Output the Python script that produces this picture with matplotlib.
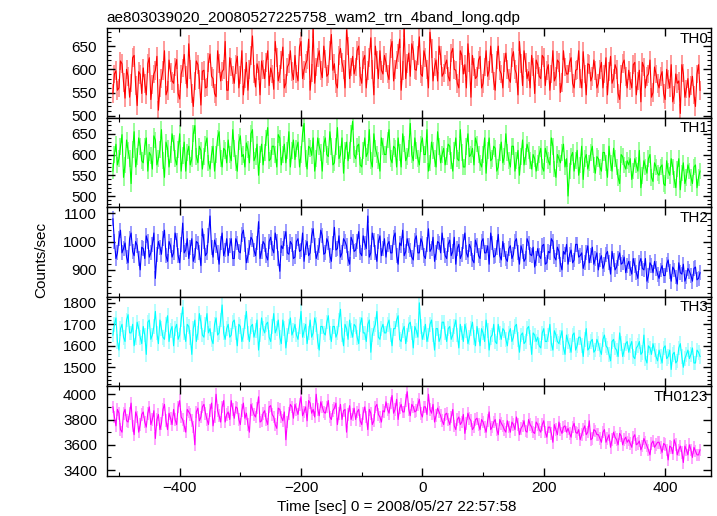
import numpy as np
import matplotlib
matplotlib.use("Agg")
import matplotlib.pyplot as plt
from matplotlib.ticker import MultipleLocator

plt.rcParams['font.family'] = ['Liberation Sans', 'DejaVu Sans']

title = "ae803039020_20080527225758_wam2_trn_4band_long.qdp"
xlabel = "Time [sec] 0 = 2008/05/27 22:57:58"
ylabel = "Counts/sec"

t_start = -510
t_step = 2.5

# values at bins t_start, t_start+5, ...  (a) and the bins in between (b)
th0_a = [548, 597, 560, 612, 538, 585, 571, 630, 522, 589,
         603, 545, 625, 567, 598, 512, 580, 640, 555, 593,
         570, 621, 536, 603, 588, 655, 548, 575, 610, 523,
         598, 562, 633, 580, 541, 612, 595, 660, 555, 605,
         570, 628, 588, 545, 615, 600, 672, 562, 598, 618,
         580, 640, 603, 557, 625, 590, 648, 570, 612, 595,
         630, 575, 660, 598, 620, 555, 688, 605, 640, 582,
         622, 590, 675, 612, 560, 645, 600, 685, 580, 628,
         605, 650, 570, 630, 598, 668, 545, 620, 640, 590,
         615, 578, 660, 600, 635, 555, 690, 612, 585, 640,
         598, 670, 585, 625, 560, 645, 605, 575, 630, 592,
         620, 575, 645, 598, 560, 630, 610, 655, 540, 605,
         585, 628, 570, 640, 598, 612, 555, 650, 590, 615,
         600, 572, 638, 590, 660, 565, 615, 595, 630, 548,
         610, 580, 625, 598, 555, 640, 585, 615, 572, 605,
         590, 625, 560, 600, 580, 638, 545, 610, 585, 598,
         570, 615, 590, 545, 628, 580, 600, 535, 612, 585,
         598, 560, 615, 575, 530, 605, 585, 620, 550, 590,
         560, 595, 535, 578, 610, 545, 570, 505, 592, 558,
         540, 585, 520, 610]
th0_b = [590, 555, 618, 572, 600, 540, 625, 565, 595, 548,
         570, 612, 535, 590, 628, 560, 598, 545, 620, 575,
         605, 548, 590, 632, 560, 600, 520, 618, 578, 596,
         560, 615, 585, 548, 640, 575, 600, 555, 625, 588,
         610, 560, 640, 580, 555, 630, 590, 612, 545, 600,
         615, 565, 590, 660, 575, 620, 560, 605, 640, 578,
         590, 648, 580, 612, 665, 592, 570, 625, 598, 650,
         585, 640, 598, 570, 630, 615, 560, 650, 605, 590,
         640, 585, 620, 560, 625, 600, 650, 580, 598, 630,
         590, 645, 575, 620, 665, 598, 580, 635, 655, 600,
         630, 590, 640, 600, 680, 575, 620, 650, 585, 610,
         585, 635, 600, 570, 640, 590, 560, 615, 630, 580,
         620, 560, 605, 585, 650, 575, 620, 598, 560, 635,
         580, 625, 600, 545, 612, 640, 580, 560, 605, 620,
         585, 630, 565, 610, 590, 575, 620, 550, 640, 590,
         615, 570, 598, 640, 560, 590, 612, 575, 620, 560,
         600, 560, 625, 595, 570, 610, 548, 590, 620, 560,
         575, 610, 545, 598, 615, 560, 590, 540, 605, 570,
         585, 548, 600, 560, 530, 590, 575, 610, 540, 580,
         565, 545, 590, 555]

th1_a = [560, 625, 590, 648, 575, 610, 530, 655, 595, 620,
         580, 640, 605, 565, 635, 590, 660, 545, 615, 600,
         628, 575, 650, 598, 560, 620, 590, 670, 580, 610,
         595, 640, 565, 620, 600, 655, 570, 610, 635, 585,
         615, 560, 645, 600, 628, 580, 660, 595, 550, 625,
         605, 665, 590, 620, 570, 640, 600, 580, 655, 610,
         588, 630, 600, 675, 565, 615, 640, 590, 620, 560,
         640, 595, 620, 580, 665, 600, 555, 630, 610, 680,
         590, 625, 570, 640, 605, 585, 650, 600, 560, 620,
         600, 660, 580, 615, 640, 570, 625, 595, 675, 585,
         610, 575, 640, 600, 560, 630, 590, 655, 580, 615,
         595, 620, 560, 640, 585, 605, 570, 650, 600, 575,
         625, 580, 600, 555, 640, 590, 615, 570, 630, 595,
         605, 570, 620, 585, 550, 635, 595, 610, 565, 590,
         580, 615, 560, 600, 575, 620, 545, 590, 605, 570,
         500, 595, 560, 610, 575, 540, 600, 580, 620, 555,
         590, 560, 605, 545, 580, 615, 570, 530, 595, 565,
         575, 540, 590, 560, 520, 585, 555, 600, 535, 570,
         550, 575, 525, 560, 590, 540, 565, 515, 580, 545,
         560, 530, 575, 545]
th1_b = [600, 575, 620, 545, 635, 590, 612, 570, 640, 585,
         620, 560, 598, 645, 575, 612, 585, 630, 570, 650,
         590, 612, 560, 630, 605, 575, 650, 595, 620, 565,
         625, 580, 600, 560, 640, 590, 615, 580, 600, 660,
         580, 630, 595, 570, 612, 650, 585, 625, 600, 575,
         640, 585, 620, 600, 648, 575, 625, 610, 570, 635,
         615, 570, 650, 590, 620, 598, 560, 640, 605, 625,
         600, 655, 575, 620, 590, 640, 610, 585, 650, 600,
         620, 575, 610, 595, 660, 570, 615, 585, 640, 600,
         635, 590, 620, 570, 605, 650, 585, 615, 600, 640,
         590, 625, 600, 660, 580, 610, 570, 620, 600, 575,
         625, 585, 610, 590, 660, 570, 620, 595, 615, 640,
         600, 570, 640, 610, 585, 620, 560, 605, 580, 650,
         585, 620, 560, 610, 595, 575, 625, 585, 600, 560,
         600, 570, 615, 585, 640, 565, 600, 580, 625, 590,
         560, 605, 585, 550, 620, 590, 565, 605, 575, 595,
         570, 605, 580, 620, 560, 590, 545, 600, 575, 585,
         590, 560, 575, 610, 550, 570, 590, 545, 580, 555,
         570, 530, 585, 550, 570, 520, 590, 555, 530, 575,
         545, 570, 520, 560]

th2_a = [1080, 940, 1010, 960, 995, 925, 1030, 950, 985, 900,
         975, 1020, 945, 990, 870, 1000, 955, 1040, 930, 985,
         960, 1005, 925, 1065, 970, 940, 1010, 950, 995, 915,
         1000, 960, 1090, 945, 985, 920, 1030, 970, 950, 1010,
         940, 995, 960, 1040, 925, 980, 1005, 950, 1070, 965,
         990, 935, 1015, 960, 1000, 895, 975, 1035, 955, 990,
         945, 1010, 970, 930, 1000, 960, 1045, 940, 985, 1020,
         960, 995, 930, 1050, 975, 945, 1010, 985, 920, 1000,
         970, 1035, 950, 995, 1090, 960, 1005, 930, 1020, 975,
         945, 1000, 960, 1030, 920, 985, 950, 1010, 970, 935,
         1020, 960, 995, 940, 1045, 975, 930, 1000, 960, 985,
         940, 1005, 965, 920, 990, 955, 1030, 945, 975, 925,
         985, 940, 1010, 960, 920, 995, 950, 1025, 935, 970,
         930, 985, 955, 1010, 920, 965, 940, 995, 950, 910,
         975, 940, 990, 925, 960, 1000, 935, 965, 900, 955,
         920, 970, 935, 990, 950, 905, 960, 925, 980, 940,
         900, 950, 920, 965, 885, 935, 910, 960, 925, 890,
         930, 885, 915, 870, 940, 900, 860, 925, 890, 905,
         870, 915, 880, 935, 860, 900, 850, 890, 920, 875,
         895, 860, 910, 870]
th2_b = [1000, 960, 1040, 975, 945, 1010, 965, 1000, 940, 980,
         940, 1000, 960, 1030, 955, 980, 1010, 950, 1000, 945,
         1030, 950, 990, 960, 1010, 980, 930, 1000, 960, 1045,
         950, 1020, 980, 1005, 960, 995, 950, 1010, 985, 940,
         1010, 965, 1025, 990, 950, 1015, 970, 995, 940, 1000,
         950, 1000, 975, 1030, 940, 985, 1010, 960, 1000, 940,
         1000, 965, 1030, 980, 950, 1020, 985, 960, 1040, 955,
         1010, 950, 995, 970, 1020, 960, 1000, 940, 1015, 965,
         1000, 960, 1020, 975, 945, 1030, 960, 1000, 950, 1010,
         990, 960, 1015, 950, 995, 1040, 965, 985, 945, 1005,
         960, 1010, 950, 990, 965, 1015, 960, 995, 1030, 950,
         990, 950, 1015, 975, 940, 1000, 960, 990, 935, 1005,
         950, 1000, 960, 985, 1030, 945, 980, 950, 1000, 940,
         975, 940, 1000, 960, 985, 930, 1010, 955, 980, 940,
         950, 985, 920, 965, 1010, 945, 980, 920, 965, 990,
         955, 925, 990, 945, 960, 925, 985, 950, 920, 960,
         935, 905, 955, 925, 965, 900, 940, 920, 945, 915,
         905, 940, 890, 925, 905, 940, 880, 915, 930, 885,
         900, 880, 920, 895, 910, 875, 925, 885, 860, 905,
         880, 905, 865, 890]

th3_a = [1650, 1730, 1580, 1700, 1620, 1745, 1660, 1600, 1710, 1640,
         1690, 1560, 1720, 1650, 1760, 1610, 1680, 1630, 1740, 1670,
         1600, 1700, 1650, 1780, 1620, 1690, 1560, 1720, 1660, 1710,
         1640, 1750, 1680, 1610, 1730, 1660, 1790, 1630, 1700, 1650,
         1720, 1600, 1690, 1650, 1760, 1620, 1700, 1670, 1580, 1730,
         1660, 1710, 1620, 1750, 1680, 1640, 1720, 1590, 1690, 1650,
         1700, 1630, 1760, 1670, 1610, 1720, 1660, 1700, 1580, 1690,
         1650, 1740, 1620, 1690, 1660, 1770, 1600, 1680, 1720, 1640,
         1690, 1610, 1730, 1660, 1700, 1570, 1680, 1760, 1630, 1700,
         1660, 1720, 1600, 1680, 1740, 1620, 1690, 1650, 1710, 1590,
         1670, 1800, 1630, 1700, 1650, 1720, 1580, 1680, 1640, 1710,
         1620, 1690, 1650, 1720, 1590, 1660, 1700, 1610, 1680, 1640,
         1690, 1600, 1660, 1720, 1580, 1650, 1620, 1700, 1630, 1670,
         1600, 1680, 1640, 1700, 1570, 1660, 1620, 1690, 1560, 1650,
         1640, 1590, 1680, 1620, 1700, 1580, 1650, 1610, 1670, 1560,
         1620, 1570, 1660, 1600, 1640, 1550, 1680, 1590, 1630, 1580,
         1610, 1560, 1650, 1590, 1530, 1630, 1580, 1660, 1550, 1610,
         1570, 1620, 1540, 1600, 1560, 1650, 1520, 1590, 1610, 1550,
         1580, 1520, 1600, 1550, 1490, 1570, 1530, 1610, 1500, 1560,
         1540, 1590, 1520, 1570]
th3_b = [1700, 1620, 1680, 1640, 1720, 1660, 1700, 1640, 1680, 1610,
         1650, 1710, 1630, 1690, 1660, 1720, 1640, 1700, 1620, 1690,
         1680, 1630, 1720, 1660, 1700, 1640, 1680, 1620, 1750, 1650,
         1700, 1660, 1630, 1700, 1650, 1720, 1660, 1680, 1640, 1710,
         1660, 1700, 1620, 1710, 1660, 1690, 1640, 1720, 1650, 1680,
         1700, 1640, 1690, 1660, 1720, 1610, 1680, 1650, 1730, 1670,
         1650, 1690, 1640, 1700, 1660, 1640, 1730, 1620, 1690, 1660,
         1710, 1660, 1690, 1640, 1720, 1650, 1700, 1630, 1670, 1700,
         1640, 1700, 1660, 1620, 1720, 1650, 1700, 1640, 1680, 1660,
         1700, 1650, 1680, 1720, 1630, 1670, 1610, 1700, 1660, 1690,
         1640, 1690, 1660, 1620, 1700, 1650, 1680, 1620, 1710, 1660,
         1680, 1630, 1690, 1650, 1700, 1620, 1670, 1640, 1710, 1600,
         1650, 1680, 1620, 1670, 1640, 1700, 1610, 1660, 1680, 1630,
         1660, 1620, 1690, 1630, 1650, 1610, 1680, 1640, 1660, 1620,
         1600, 1660, 1620, 1650, 1610, 1670, 1620, 1640, 1590, 1650,
         1600, 1650, 1580, 1640, 1600, 1630, 1580, 1620, 1570, 1630,
         1580, 1630, 1600, 1560, 1620, 1590, 1550, 1610, 1580, 1620,
         1600, 1550, 1590, 1620, 1570, 1540, 1600, 1560, 1580, 1530,
         1550, 1590, 1540, 1580, 1560, 1520, 1590, 1550, 1540, 1580,
         1560, 1520, 1580, 1550]

th0123_a = [3900, 3750, 3850, 3700, 3880, 3780, 3930, 3680, 3820, 3760,
            3860, 3740, 3900, 3800, 3650, 3840, 3770, 3920, 3720, 3810,
            3880, 3760, 3950, 3800, 3700, 3860, 3790, 3600, 3890, 3820,
            3920, 3800, 3870, 3750, 4000, 3830, 3900, 3780, 3860, 3950,
            3810, 3890, 3760, 3930, 3850, 3700, 3880, 3820, 3980, 3790,
            3870, 3760, 3910, 3820, 3730, 3880, 3790, 3640, 3850, 3900,
            3920, 3840, 3980, 3860, 3790, 3930, 3880, 4000, 3830, 3900,
            3850, 3950, 3800, 3890, 3760, 3920, 3870, 3700, 3910, 3840,
            3800, 3880, 3760, 3900, 3720, 3850, 3790, 3920, 3820, 3870,
            3940, 3850, 3990, 3880, 3800, 3920, 3860, 4020, 3830, 3900,
            3870, 3960, 3820, 3900, 4000, 3850, 3780, 3890, 3830, 3760,
            3850, 3760, 3880, 3720, 3820, 3780, 3690, 3850, 3790, 3740,
            3810, 3720, 3780, 3700, 3860, 3740, 3800, 3680, 3770, 3720,
            3790, 3700, 3760, 3820, 3680, 3750, 3710, 3800, 3740, 3690,
            3760, 3700, 3790, 3660, 3740, 3620, 3720, 3780, 3690, 3750,
            3730, 3660, 3770, 3690, 3640, 3720, 3680, 3790, 3650, 3710,
            3680, 3620, 3720, 3650, 3580, 3700, 3640, 3690, 3600, 3660,
            3640, 3580, 3680, 3610, 3560, 3650, 3590, 3520, 3630, 3600,
            3620, 3540, 3600, 3480, 3580, 3640, 3520, 3590, 3460, 3560,
            3600, 3500, 3550, 3520]
th0123_b = [3820, 3880, 3720, 3850, 3790, 3850, 3750, 3860, 3700, 3840,
            3780, 3850, 3760, 3870, 3800, 3720, 3880, 3790, 3850, 3760,
            3800, 3900, 3820, 3750, 3880, 3840, 3740, 3860, 3790, 3900,
            3850, 3760, 3930, 3820, 3870, 3780, 3950, 3840, 3800, 3880,
            3900, 3800, 3870, 3810, 3760, 3920, 3840, 3890, 3780, 3850,
            3800, 3900, 3840, 3760, 3890, 3820, 3860, 3780, 3920, 3810,
            3880, 3920, 3830, 3900, 3950, 3850, 3820, 3880, 3940, 3860,
            3900, 3820, 3870, 3930, 3850, 3800, 3880, 3840, 3800, 3890,
            3860, 3790, 3850, 3820, 3880, 3760, 3900, 3840, 3780, 3860,
            3880, 3930, 3850, 3960, 3890, 3860, 3950, 3880, 3920, 3860,
            3920, 3850, 3900, 3840, 3880, 3920, 3830, 3860, 3790, 3840,
            3800, 3820, 3750, 3800, 3760, 3840, 3770, 3810, 3720, 3800,
            3760, 3800, 3740, 3790, 3720, 3780, 3720, 3800, 3750, 3700,
            3740, 3780, 3720, 3760, 3730, 3790, 3700, 3760, 3700, 3780,
            3720, 3760, 3700, 3740, 3690, 3760, 3680, 3720, 3740, 3700,
            3690, 3740, 3700, 3720, 3680, 3750, 3700, 3640, 3720, 3680,
            3650, 3700, 3620, 3680, 3640, 3660, 3600, 3670, 3640, 3620,
            3610, 3660, 3600, 3630, 3590, 3620, 3560, 3610, 3580, 3620,
            3580, 3610, 3560, 3590, 3530, 3600, 3560, 3540, 3590, 3520,
            3560, 3580, 3520, 3560]

band_names = ["TH0", "TH1", "TH2", "TH3", "TH0123"]
band_a = [th0_a, th1_a, th2_a, th3_a, th0123_a]
band_b = [th0_b, th1_b, th2_b, th3_b, th0123_b]
band_errors = [20, 20, 26, 34, 50]
band_colors = ["#ff0000", "#00ff00", "#0000ff", "#00ffff", "#ff00ff"]
band_light = ["#ff7f7f", "#7fff7f", "#7f7fff", "#9fffff", "#ff8fff"]
band_ylims = [(496, 689), (473, 689), (805, 1121), (1411, 1828), (3353, 4062)]
band_major = [50, 50, 100, 100, 200]
band_minor = [10, 10, 20, 20, 100]

fig = plt.figure(figsize=(7.17, 5.16), dpi=100)
axes = fig.subplots(5, 1, sharex=True)
fig.subplots_adjust(left=0.149, right=0.992, top=0.9457, bottom=0.0775, hspace=0)

for ax, name, va, vb, err, c, lc, yl, mj, mn in zip(
        axes, band_names, band_a, band_b, band_errors, band_colors, band_light,
        band_ylims, band_major, band_minor):
    y = np.empty(len(va) + len(vb))
    y[0::2] = va
    y[1::2] = vb
    t = t_start + t_step * np.arange(len(y))
    ax.vlines(t, y - err, y + err, color=lc, lw=1.1, zorder=1)
    ax.plot(t, y, color=c, lw=0.8, zorder=2)
    ax.set_ylim(*yl)
    ax.yaxis.set_major_locator(MultipleLocator(mj))
    ax.yaxis.set_minor_locator(MultipleLocator(mn))
    ax.xaxis.set_major_locator(MultipleLocator(200))
    ax.xaxis.set_minor_locator(MultipleLocator(100))
    ax.tick_params(which='both', direction='in', top=True, right=True,
                   labelsize=11)
    ax.tick_params(axis='y', pad=7)
    ax.tick_params(which='major', length=6, width=1)
    ax.tick_params(which='minor', length=3, width=0.8)
    for s in ax.spines.values():
        s.set_linewidth(1.0)
    ax.text(0.995, 0.96, name, transform=ax.transAxes, ha='right', va='top',
            fontsize=11)

axes[-1].set_xlim(-520, 476)
axes[-1].set_xlabel(xlabel, fontsize=11, labelpad=2)
axes[-1].xaxis.set_label_coords(0.48, -0.27)
fig.text(0.058, 0.496, ylabel, rotation=90, ha='center', va='center', fontsize=11)
axes[0].set_title(title, loc='left', fontsize=11, pad=4)

fig.savefig("out.png", dpi=100)
